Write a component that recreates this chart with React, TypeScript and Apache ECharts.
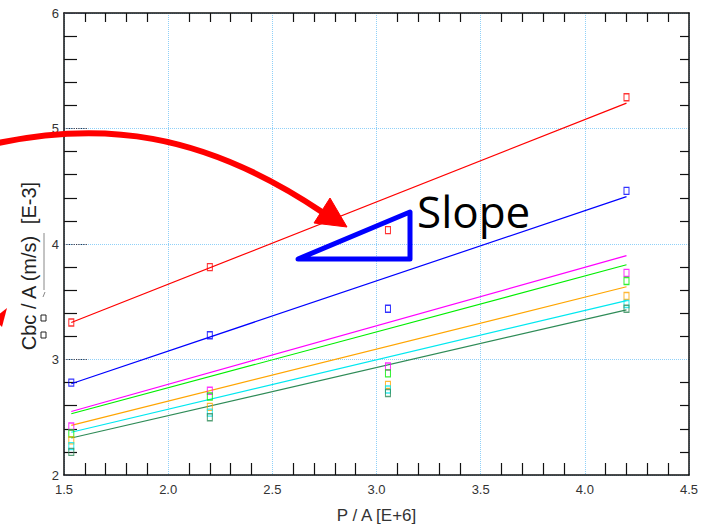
import React, { useEffect, useRef } from "react";
import * as echarts from "echarts";

// Measured x positions (P / A, E+6)
const pointX = [1.535, 2.2, 3.055, 4.2];
// Measured Cbc / A values (E-3) per series
const redPts = [3.32, 3.8, 4.12, 5.27];
const bluePts = [2.8, 3.21, 3.44, 4.46];
const magentaPts = [2.42, 2.73, 2.94, 3.75];
const greenPts = [2.36, 2.68, 2.88, 3.68];
const orangePts = [2.3, 2.59, 2.78, 3.55];
const cyanPts = [2.25, 2.54, 2.74, 3.48];
const seaPts = [2.2, 2.5, 2.71, 3.44];

// Fitted line end points
const fitX = [1.535, 4.2];
const redFit = [3.32, 5.22];
const blueFit = [2.79, 4.41];
const magentaFit = [2.55, 3.9];
const greenFit = [2.53, 3.82];
const orangeFit = [2.43, 3.63];
const cyanFit = [2.37, 3.51];
const seaFit = [2.32, 3.43];

const seriesColors = ["#ff0000", "#0000ff", "#ff00ff", "#00ee00", "#ffa500", "#00e8f0", "#2e8b57"];
const pointSets = [redPts, bluePts, magentaPts, greenPts, orangePts, cyanPts, seaPts];
const fitSets = [redFit, blueFit, magentaFit, greenFit, orangeFit, cyanFit, seaFit];

const xTicks = { min: 1.5, max: 4.5, interval: 0.5 };
const yTicks = { min: 2, max: 6, interval: 1 };

const FONT = "'Liberation Sans Narrow', 'Liberation Sans', Arial, sans-serif";
const LABEL_FONT = "20px 'Liberation Sans', Arial, sans-serif";

export default function App() {
  const ref = useRef<HTMLDivElement>(null);
  useEffect(() => {
    if (!ref.current) return;
    const chart = echarts.init(ref.current, undefined, { renderer: "svg" });
    const gridColor = "#8fd0f8";
    const lineSeries = fitSets.map((f, i) => ({
      type: "line",
      data: fitX.map((x, k) => [x, f[k]]),
      showSymbol: false,
      symbol: "none",
      lineStyle: { color: seriesColors[i], width: 1.2 },
      z: 2,
    }));
    const scatterSeries = pointSets.map((p, i) => ({
      type: "scatter",
      data: pointX.map((x, k) => [x, p[k]]),
      symbol: "rect",
      symbolSize: [5, 7],
      itemStyle: { color: "rgba(255,255,255,0)", borderColor: seriesColors[i], borderWidth: 1.2 },
      z: 3,
    }));
    const yLabelPart = (text: string, y: number) => ({
      type: "text",
      x: 29,
      y,
      rotation: Math.PI / 2,
      style: { text, font: LABEL_FONT, fill: "#222", align: "center", verticalAlign: "middle" },
    });
    chart.setOption({
      animation: false,
      backgroundColor: "#ffffff",
      grid: { left: 64, right: 29, top: 13, bottom: 53 },
      xAxis: [
        {
          type: "value",
          position: "bottom",
          min: xTicks.min,
          max: xTicks.max,
          interval: xTicks.interval,
          name: "P / A [E+6]",
          nameLocation: "middle",
          nameGap: 32,
          nameTextStyle: { fontSize: 17, color: "#333", fontFamily: FONT },
          axisLine: { show: true, lineStyle: { color: "#111", width: 1.5 } },
          axisTick: { show: false, inside: true },
          minorTick: { show: true, splitNumber: 5, length: 12, lineStyle: { color: "#111", width: 1.2 } },
          axisLabel: {
            margin: 8,
            fontSize: 13,
            color: "#333",
            fontFamily: FONT,
            formatter: (v: number) => v.toFixed(1),
          },
          splitLine: { show: true, lineStyle: { color: gridColor, type: "dotted", width: 1 } },
        },
        {
          type: "value",
          position: "top",
          min: xTicks.min,
          max: xTicks.max,
          interval: xTicks.interval,
          axisLine: { show: true, lineStyle: { color: "#111", width: 1.5 } },
          axisTick: { show: false, inside: true },
          minorTick: { show: true, splitNumber: 5, length: 9, lineStyle: { color: "#111", width: 1.2 } },
          axisLabel: { show: false },
          splitLine: { show: false },
        },
      ],
      yAxis: [
        {
          type: "value",
          position: "left",
          min: yTicks.min,
          max: yTicks.max,
          interval: yTicks.interval,
          axisLine: { show: true, lineStyle: { color: "#111", width: 1.5 } },
          axisTick: { show: true, inside: true, length: 24, lineStyle: { color: "#334", type: "dotted", width: 1.2 } },
          minorTick: { show: true, splitNumber: 5, length: 13, lineStyle: { color: "#111", width: 1.2 } },
          axisLabel: { margin: 5, fontSize: 13, color: "#333", fontFamily: FONT },
          splitLine: { show: true, lineStyle: { color: gridColor, type: "dotted", width: 1 } },
        },
        {
          type: "value",
          position: "right",
          min: yTicks.min,
          max: yTicks.max,
          interval: yTicks.interval,
          axisLine: { show: true, lineStyle: { color: "#111", width: 1.5 } },
          axisTick: { show: false, inside: true },
          minorTick: { show: true, splitNumber: 5, length: 9, lineStyle: { color: "#111", width: 1.2 } },
          axisLabel: { show: false },
          splitLine: { show: false },
        },
      ],
      series: [...lineSeries, ...scatterSeries],
      graphic: [
        yLabelPart("Cbc / A (m/s)", 293),
        yLabelPart("[E-3]", 203),
        { type: "rect", shape: { x: 41, y: 315, width: 5, height: 6 }, style: { fill: "none", stroke: "#222", lineWidth: 1 } },
        { type: "rect", shape: { x: 41, y: 332, width: 5, height: 6 }, style: { fill: "none", stroke: "#222", lineWidth: 1 } },
        { type: "line", shape: { x1: 44, y1: 233, x2: 44, y2: 290 }, style: { stroke: "#888", lineWidth: 1 } },
        { type: "line", shape: { x1: 43, y1: 297, x2: 45, y2: 292 }, style: { stroke: "#888", lineWidth: 1 } },
        {
          type: "bezierCurve",
          shape: { x1: -2, y1: 143, cpx1: 100, cpy1: 122, cpx2: 200, cpy2: 130, x2: 322, y2: 212 },
          style: { stroke: "#ff0000", lineWidth: 6, fill: "none" },
          z: 100,
        },
        {
          type: "polygon",
          shape: { points: [[314, 223], [330, 198], [347, 227]] },
          style: { fill: "#ff0000", stroke: "#ff0000", lineWidth: 1 },
          z: 100,
        },
        {
          type: "polygon",
          shape: { points: [[7, 308], [-2, 315], [-2, 323], [2, 327]] },
          style: { fill: "#ff0000" },
          z: 100,
        },
        {
          type: "polygon",
          shape: { points: [[298, 259], [410, 212], [410, 259]] },
          style: { fill: "none", stroke: "#0000ff", lineWidth: 5, lineJoin: "round" },
          z: 100,
        },
        {
          type: "text",
          x: 417,
          y: 211,
          style: {
            text: "Slope",
            font: "44px 'Open Sans', 'Noto Sans', sans-serif",
            fill: "#000",
            align: "left",
            verticalAlign: "middle",
          },
          z: 100,
        },
      ],
    });
    return () => chart.dispose();
  }, []);
  return (
    <div
      ref={ref}
      style={{ position: "absolute", left: 0, top: 0, width: 718, height: 529 }}
    />
  );
}
